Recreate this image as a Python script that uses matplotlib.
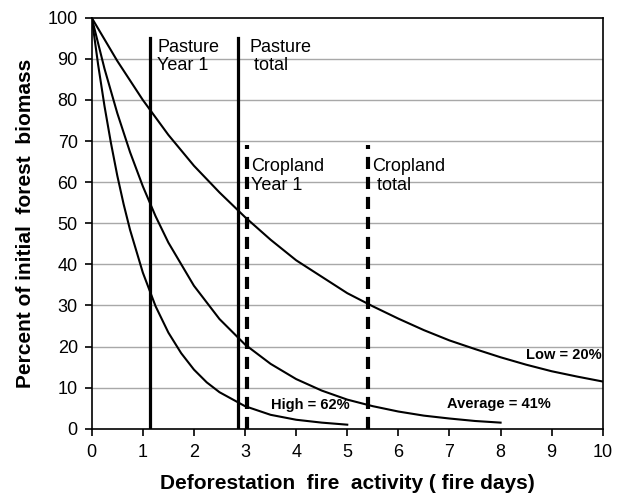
import matplotlib
matplotlib.use('Agg')
import matplotlib.pyplot as plt
from matplotlib import rcParams

rcParams.update({'font.family': ['Liberation Sans', 'DejaVu Sans'],
                 'font.size': 13})

# ---- data ----
low_x = [0, 0.5, 1, 1.5, 2, 2.5, 3, 3.5, 4, 4.5, 5, 5.5, 6, 6.5, 7, 7.5, 8, 8.5, 9, 9.5, 10]
low_y = [100, 89.5, 80, 71.5, 64, 57.5, 51.5, 46, 41, 37, 33, 29.8, 26.8, 24, 21.5, 19.4, 17.4, 15.6, 14, 12.7, 11.5]

avg_x = [0, 0.25, 0.5, 0.75, 1, 1.25, 1.5, 2, 2.5, 3, 3.5, 4, 4.5, 5, 5.5, 6, 6.5, 7, 7.5, 8]
avg_y = [100, 87.6, 76.8, 67.3, 59, 51.7, 45.3, 34.8, 26.7, 20.5, 15.8, 12.1, 9.3, 7.1, 5.5, 4.2, 3.2, 2.5, 1.9, 1.5]

high_x = [0, 0.125, 0.25, 0.375, 0.5, 0.625, 0.75, 1, 1.25, 1.5, 1.75, 2, 2.25, 2.5, 3, 3.5, 4, 4.5, 5]
high_y = [100, 88.6, 78.5, 69.6, 61.6, 54.6, 48.4, 38, 29.8, 23.4, 18.4, 14.4, 11.3, 8.9, 5.5, 3.4, 2.2, 1.5, 1.0]

# vertical markers: (x, top, dashed?)
markers = [(1.15, 95, False), (2.87, 95, False), (3.03, 69, True), (5.4, 69, True)]
marker_text = [(1.28, 94.8, 'Pasture\nYear 1'), (3.08, 94.8, 'Pasture\n total'),
               (3.12, 65.8, 'Cropland\nYear 1'), (5.48, 65.8, 'Cropland\n total')]

fig = plt.figure(figsize=(6.24, 4.94), dpi=100)
ax = fig.add_axes([0.147, 0.132, 0.819, 0.832])

for y in range(10, 100, 10):
    ax.axhline(y, color='#a8a8a8', lw=1.0, zorder=0)

ax.plot(low_x, low_y, color='black', lw=1.5)
ax.plot(avg_x, avg_y, color='black', lw=1.5)
ax.plot(high_x, high_y, color='black', lw=1.5)

for x, top, dashed in markers:
    if dashed:
        ax.plot([x, x], [0, top], color='black', lw=3, dashes=(2.9, 1.9))
    else:
        ax.plot([x, x], [0, top], color='black', lw=2.3)

for x, y, s in marker_text:
    ax.text(x, y, s, ha='left', va='top', fontsize=13, linespacing=1.1)

ax.text(9.98, 18, 'Low = 20%', ha='right', va='center', fontsize=10.5, fontweight='bold')
ax.text(7.97, 6.1, 'Average = 41%', ha='center', va='center', fontsize=10.5, fontweight='bold')
ax.text(4.27, 5.8, 'High = 62%', ha='center', va='center', fontsize=10.5, fontweight='bold')

ax.set_xlim(0, 10)
ax.set_ylim(0, 100)
ax.set_xticks(range(0, 11))
ax.set_yticks(range(0, 101, 10))
ax.tick_params(axis='both', direction='out', length=5, width=1.2, labelsize=13)
ax.tick_params(axis='x', pad=6)
ax.tick_params(axis='y', pad=5)
for sp in ax.spines.values():
    sp.set_linewidth(1.2)

ax.set_xlabel('Deforestation  fire  activity ( fire days)', fontsize=15, fontweight='bold', labelpad=9)
ax.set_ylabel('Percent of initial  forest  biomass', fontsize=15, fontweight='bold', labelpad=9)

plt.savefig('out.png', dpi=100)
